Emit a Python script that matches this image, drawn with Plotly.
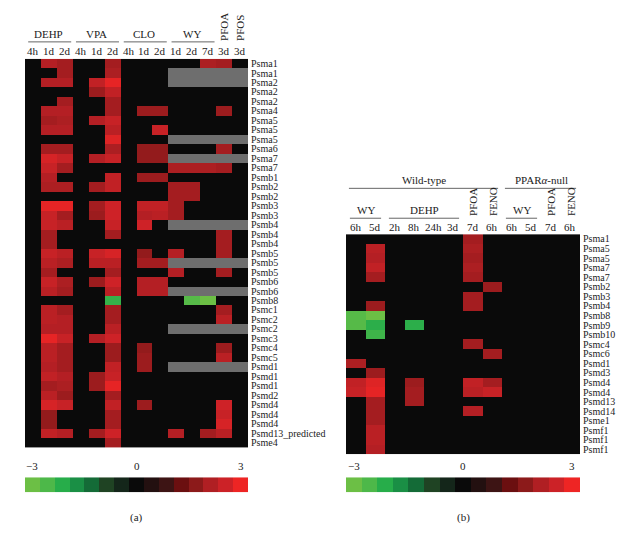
import plotly.graph_objects as go
import math

W, H = 629, 544
FONT = "Liberation Serif"
N = None  # missing value (gray cell)

# ---------------- data: panel (a) ----------------
left_col_labels = ["4h", "1d", "2d", "4h", "1d", "2d", "4h", "1d", "2d", "1d", "2d", "7d", "3d", "3d"]
left_groups = [("DEHP", 0, 2), ("VPA", 3, 5), ("CLO", 6, 8), ("WY", 9, 11)]
left_rotated = [("PFOA", 12), ("PFOS", 13)]
left_rows = ["Psma1", "Psma1", "Psma2", "Psma2", "Psma2", "Psma4", "Psma5", "Psma5", "Psma5", "Psma6",
             "Psma7", "Psma7", "Psmb1", "Psmb2", "Psmb2", "Psmb3", "Psmb3", "Psmb4", "Psmb4", "Psmb4",
             "Psmb5", "Psmb5", "Psmb5", "Psmb6", "Psmb6", "Psmb8", "Psmc1", "Psmc2", "Psmc2", "Psmc3",
             "Psmc4", "Psmc5", "Psmd1", "Psmd1", "Psmd1", "Psmd2", "Psmd4", "Psmd4", "Psmd4",
             "Psmd13_predicted", "Psme4"]
left_values = [
    [0, 2.2, 2.0, 0, 0, 2.0, 0, 0, 0, 0, 0, 2.1, 2.0, 0],
    [0, 0, 2.0, 0, 0, 2.1, 0, 0, 0, N, N, N, N, N],
    [0, 2.2, 2.2, 0, 2.4, 2.9, 0, 0, 0, N, N, N, N, N],
    [0, 0, 0, 0, 1.9, 2.4, 0, 0, 0, 0, 0, 0, 0, 0],
    [0, 0, 2.0, 0, 0, 2.0, 0, 0, 0, 0, 0, 0, 0, 0],
    [0, 2.2, 2.2, 0, 0, 2.0, 0, 1.9, 1.9, 0, 0, 0, 1.9, 0],
    [0, 2.0, 2.1, 0, 2.2, 2.5, 0, 0, 0, 0, 0, 0, 0, 0],
    [0, 2.2, 2.2, 0, 0, 2.3, 0, 0, 2.5, 0, 0, 0, 0, 0],
    [0, 0, 0, 0, 0, 2.8, 0, 0, 0, N, N, N, N, N],
    [0, 2.0, 2.0, 0, 0, 2.1, 0, 1.8, 1.8, 0, 0, 0, 2.0, 0],
    [0, 2.7, 2.5, 0, 2.2, 2.5, 0, 1.8, 1.8, N, N, N, N, N],
    [0, 2.5, 2.0, 0, 0, 0, 0, 0, 0, 2.1, 2.1, 2.1, 2.0, 0],
    [0, 2.2, 0, 0, 0, 2.4, 0, 1.9, 1.9, 0, 0, 0, 0, 0],
    [0, 2.1, 2.1, 0, 2.0, 2.4, 0, 0, 0, 2.0, 2.0, 0, 0, 0],
    [0, 0, 0, 0, 0, 0, 0, 0, 0, 2.0, 2.0, 0, 0, 0],
    [0, 2.9, 2.9, 0, 2.0, 2.6, 0, 2.4, 2.4, 2.0, 0, 0, 0, 0],
    [0, 2.5, 2.0, 0, 1.9, 2.6, 0, 2.2, 2.3, 2.0, 0, 0, 0, 0],
    [0, 2.5, 2.3, 0, 0, 2.5, 0, 2.6, 0, N, N, N, N, N],
    [0, 2.0, 0, 0, 0, 2.0, 0, 0, 0, 0, 0, 0, 2.0, 0],
    [0, 2.0, 0, 0, 0, 0, 0, 0, 0, 0, 0, 0, 2.0, 0],
    [0, 2.5, 2.3, 0, 2.5, 2.7, 0, 1.8, 0, 2.2, 0, 0, 2.0, 0],
    [0, 2.3, 2.1, 0, 2.3, 2.3, 0, 2.0, 2.0, N, N, N, N, N],
    [0, 2.0, 0, 0, 0, 2.0, 0, 0, 0, 2.2, 0, 0, 2.0, 0],
    [0, 2.5, 2.1, 0, 1.9, 2.6, 0, 2.2, 2.2, 0, 0, 0, 0, 0],
    [0, 2.3, 2.0, 0, 0, 2.3, 0, 2.2, 2.2, N, N, N, N, N],
    [0, 0, 0, 0, 0, -2.3, 0, 0, 0, 0, -2.7, -3.0, 0, 0],
    [0, 2.3, 2.0, 0, 0, 2.0, 0, 0, 0, 0, 0, 0, 2.0, 0],
    [0, 2.3, 2.2, 0, 0, 2.0, 0, 0, 0, 0, 0, 0, 2.3, 0],
    [0, 2.2, 2.2, 0, 0, 2.3, 0, 0, 0, N, N, N, N, N],
    [0, 2.9, 2.5, 0, 2.2, 2.6, 0, 0, 0, 0, 0, 0, 0, 0],
    [0, 2.3, 2.0, 0, 0, 1.9, 0, 1.8, 0, 0, 0, 0, 1.9, 0],
    [0, 2.3, 2.0, 0, 0, 1.9, 0, 1.9, 0, 0, 0, 0, 2.3, 0],
    [0, 2.2, 2.0, 0, 0, 2.4, 0, 1.9, 0, N, N, N, N, N],
    [0, 2.4, 2.2, 0, 1.9, 2.5, 0, 0, 0, 0, 0, 0, 0, 0],
    [0, 2.0, 2.1, 0, 1.9, 2.9, 0, 0, 0, 0, 0, 0, 0, 0],
    [0, 2.3, 1.9, 0, 0, 2.0, 0, 0, 0, 0, 0, 0, 0, 0],
    [0, 2.7, 2.5, 0, 0, 2.4, 0, 1.9, 0, 0, 0, 0, 2.6, 0],
    [0, 1.8, 0, 0, 0, 2.0, 0, 0, 0, 0, 0, 0, 2.5, 0],
    [0, 1.8, 0, 0, 0, 2.0, 0, 0, 0, 0, 0, 0, 2.7, 0],
    [0, 2.4, 2.2, 0, 2.0, 2.6, 0, 0, 0, 2.2, 0, 2.0, 2.3, 0],
    [0, 0, 0, 0, 0, 2.0, 0, 0, 0, 0, 0, 0, 0, 0],
]

# ---------------- data: panel (b) ----------------
right_col_labels = ["6h", "5d", "2h", "8h", "24h", "3d", "7d", "6h", "6h", "5d", "7d", "6h"]
right_top_groups = [("Wild-type", 0, 7), ("PPAR<i>α</i>-null", 8, 11)]
right_groups = [("WY", 0, 1), ("DEHP", 2, 5), ("WY", 8, 9)]
right_rotated = [("PFOA", 6), ("FENO", 7), ("PFOA", 10), ("FENO", 11)]
right_rows = ["Psma1", "Psma5", "Psma5", "Psma7", "Psma7", "Psmb2", "Psmb3", "Psmb4", "Psmb8", "Psmb9",
              "Psmb10", "Psmc4", "Psmc6", "Psmd1", "Psmd3", "Psmd4", "Psmd4", "Psmd13", "Psmd14",
              "Psme1", "Psmf1", "Psmf1", "Psmf1"]
right_values = [
    [0, 0, 0, 0, 0, 0, 2.0, 0, 0, 0, 0, 0],
    [0, 2.3, 0, 0, 0, 0, 2.1, 0, 0, 0, 0, 0],
    [0, 2.2, 0, 0, 0, 0, 2.0, 0, 0, 0, 0, 0],
    [0, 2.4, 0, 0, 0, 0, 2.1, 0, 0, 0, 0, 0],
    [0, 2.0, 0, 0, 0, 0, 2.0, 0, 0, 0, 0, 0],
    [0, 0, 0, 0, 0, 0, 0, 1.9, 0, 0, 0, 0],
    [0, 0, 0, 0, 0, 0, 2.0, 0, 0, 0, 0, 0],
    [0, 1.9, 0, 0, 0, 0, 2.0, 0, 0, 0, 0, 0],
    [-2.7, -3.0, 0, 0, 0, 0, 0, 0, 0, 0, 0, 0],
    [-2.7, -2.2, 0, -2.2, 0, 0, 0, 0, 0, 0, 0, 0],
    [0, -2.4, 0, 0, 0, 0, 0, 0, 0, 0, 0, 0],
    [0, 0, 0, 0, 0, 0, 2.0, 0, 0, 0, 0, 0],
    [0, 0, 0, 0, 0, 0, 0, 2.0, 0, 0, 0, 0],
    [2.1, 0, 0, 0, 0, 0, 0, 0, 0, 0, 0, 0],
    [0, 1.9, 0, 0, 0, 0, 0, 0, 0, 0, 0, 0],
    [2.4, 2.8, 0, 1.9, 0, 0, 2.4, 2.0, 0, 0, 0, 0],
    [2.5, 2.9, 0, 2.0, 0, 0, 2.3, 2.5, 0, 0, 0, 0],
    [0, 2.0, 0, 2.0, 0, 0, 0, 0, 0, 0, 0, 0],
    [0, 2.0, 0, 0, 0, 0, 2.2, 0, 0, 0, 0, 0],
    [0, 2.0, 0, 0, 0, 0, 0, 0, 0, 0, 0, 0],
    [0, 2.3, 0, 0, 0, 0, 0, 0, 0, 0, 0, 0],
    [0, 2.3, 0, 0, 0, 0, 0, 0, 0, 0, 0, 0],
    [0, 2.2, 0, 0, 0, 0, 0, 0, 0, 0, 0, 0],
]

# ---------------- colour scale ----------------
scale_colors = ["#6cbf45", "#4db849", "#27ad4a", "#1a8f45", "#146b37", "#1f4323", "#14261a",
                "#0a0a0a", "#231010", "#3d1414", "#6b0f10", "#8c1a1a", "#b01f23", "#cc2227", "#ee2524"]
scale_min, scale_max = -3, 3
scale_ticks = ["\u22123", "0", "3"]
MISSING = "#6e6e6e"

colorscale = [[i / (len(scale_colors) - 1), c] for i, c in enumerate(scale_colors)]


def px_x(p):
    return p / W


def px_y(p):
    return 1 - p / H


def split(values):
    z, miss = [], []
    for row in values:
        z.append([math.nan if v is None else v for v in row])
        miss.append([1 if v is None else math.nan for v in row])
    return z, miss


# panel geometry (pixels)
LX0, LX1, LY0, LY1 = 17, 240, 50, 440
RX0, RX1, RY0, RY1 = 338, 572, 226, 447
CB_Y0, CB_Y1 = 470, 485

fig = go.Figure()

zL, mL = split(left_values)
zR, mR = split(right_values)

fig.add_trace(go.Heatmap(z=zL, x=list(range(len(left_col_labels))), y=list(range(len(left_rows))),
                         colorscale=colorscale, zmin=scale_min, zmax=scale_max, showscale=False,
                         hoverongaps=False, xaxis="x", yaxis="y"))
fig.add_trace(go.Heatmap(z=mL, x=list(range(len(left_col_labels))), y=list(range(len(left_rows))),
                         colorscale=[[0, MISSING], [1, MISSING]], showscale=False,
                         hoverongaps=False, xaxis="x", yaxis="y"))
fig.add_trace(go.Heatmap(z=zR, x=list(range(len(right_col_labels))), y=list(range(len(right_rows))),
                         colorscale=colorscale, zmin=scale_min, zmax=scale_max, showscale=False,
                         hoverongaps=False, xaxis="x2", yaxis="y2"))

ncb = len(scale_colors)
cb_vals = [scale_min + i * (scale_max - scale_min) / (ncb - 1) for i in range(ncb)]
for xa, ya in (("x3", "y3"), ("x4", "y4")):
    fig.add_trace(go.Heatmap(z=[cb_vals], x=list(range(ncb)), y=[0], colorscale=colorscale,
                             zmin=scale_min, zmax=scale_max, showscale=False, xaxis=xa, yaxis=ya))

tickfont = dict(family=FONT, size=10, color="#222")
hidden = dict(showgrid=False, zeroline=False, showticklabels=False, ticks="", showline=False)

fig.update_layout(
    width=W, height=H, margin=dict(l=0, r=0, t=0, b=0),
    paper_bgcolor="white", plot_bgcolor="white", showlegend=False,
    xaxis=dict(domain=[px_x(LX0), px_x(LX1)], range=[-0.5, len(left_col_labels) - 0.5], anchor="y", **hidden),
    yaxis=dict(domain=[px_y(LY1), px_y(LY0)], range=[len(left_rows) - 0.5, -0.5], anchor="x",
               side="right", tickvals=list(range(len(left_rows))), ticktext=left_rows,
               showticklabels=True, ticks="", showgrid=False, zeroline=False, tickfont=tickfont,
               ticklabelstandoff=2),
    xaxis2=dict(domain=[px_x(RX0), px_x(RX1)], range=[-0.5, len(right_col_labels) - 0.5], anchor="y2", **hidden),
    yaxis2=dict(domain=[px_y(RY1), px_y(RY0)], range=[len(right_rows) - 0.5, -0.5], anchor="x2",
                side="right", tickvals=list(range(len(right_rows))), ticktext=right_rows,
                showticklabels=True, ticks="", showgrid=False, zeroline=False, tickfont=tickfont,
                ticklabelstandoff=2),
    xaxis3=dict(domain=[px_x(LX0), px_x(LX1)], range=[-0.5, ncb - 0.5], anchor="y3", **hidden),
    yaxis3=dict(domain=[px_y(CB_Y1), px_y(CB_Y0)], range=[-0.5, 0.5], anchor="x3", **hidden),
    xaxis4=dict(domain=[px_x(RX0), px_x(RX1)], range=[-0.5, ncb - 0.5], anchor="y4", **hidden),
    yaxis4=dict(domain=[px_y(CB_Y1), px_y(CB_Y0)], range=[-0.5, 0.5], anchor="x4", **hidden),
)

ann = []
shapes = []
LINE = dict(color="#666", width=1)


def txt(text, x, xref, ypx, size=11, angle=0, yanchor="middle"):
    ann.append(dict(text=text, x=x, xref=xref, y=px_y(ypx), yref="paper", showarrow=False,
                    font=dict(family=FONT, size=size, color="#222"), textangle=angle,
                    xanchor="center", yanchor=yanchor))


# panel (a) headers (pixel offsets relative to the panel top)
for i, lab in enumerate(left_col_labels):
    txt(lab, i, "x", LY0 - 8)
for name, a, b in left_groups:
    txt(name, (a + b) / 2, "x", LY0 - 25)
    shapes.append(dict(type="line", xref="x", yref="paper", x0=a - 0.3, x1=b + 0.4,
                       y0=px_y(LY0 - 17), y1=px_y(LY0 - 17), line=LINE))
for name, c in left_rotated:
    txt(name, c, "x", LY0 - 16, angle=-90, yanchor="bottom")

# panel (b) headers
for i, lab in enumerate(right_col_labels):
    txt(lab, i, "x2", RY0 - 7)
for name, a, b in right_top_groups:
    txt(name, (a + b) / 2, "x2", RY0 - 54)
    shapes.append(dict(type="line", xref="x2", yref="paper", x0=a - 0.35, x1=b + 0.3,
                       y0=px_y(RY0 - 46), y1=px_y(RY0 - 46), line=LINE))
for name, a, b in right_groups:
    txt(name, (a + b) / 2, "x2", RY0 - 24)
    shapes.append(dict(type="line", xref="x2", yref="paper", x0=a - 0.3, x1=b + 0.3,
                       y0=px_y(RY0 - 16), y1=px_y(RY0 - 16), line=LINE))
for name, c in right_rotated:
    txt(name, c, "x2", RY0 - 16, angle=-90, yanchor="bottom")

# colour bar labels
for xa in ("x3", "x4"):
    for lab, pos in zip(scale_ticks, [0, (ncb - 1) / 2, ncb - 1]):
        txt(lab, pos, xa, CB_Y0 - 11, size=11)

txt("(a)", (ncb - 1) / 2, "x3", 510)
txt("(b)", (ncb - 1) / 2, "x4", 510)

fig.update_layout(annotations=ann, shapes=shapes)
fig.write_html("out.html")
